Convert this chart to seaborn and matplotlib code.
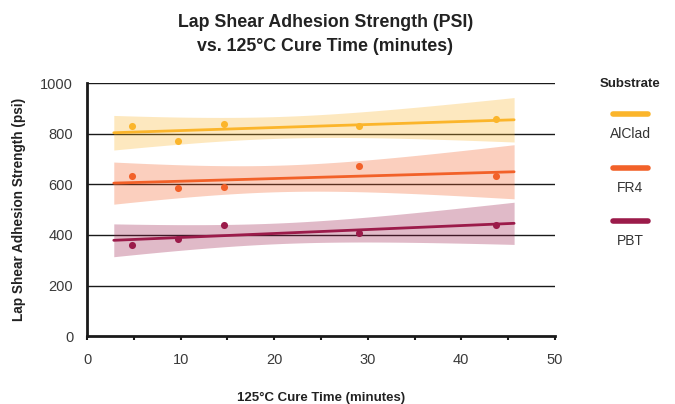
import matplotlib
matplotlib.use("Agg")
import matplotlib.pyplot as plt
from matplotlib.lines import Line2D
import numpy as np
import pandas as pd
import seaborn as sns

# Cure-time study: lap shear adhesion strength per substrate
cure_time = [4.8, 9.7, 14.6, 29.1, 43.7]
alclad = [829, 771, 840, 829, 857]
fr4 = [634, 587, 590, 674, 632]
pbt = [360, 383, 440, 409, 440]

substrates = ["AlClad", "FR4", "PBT"]
colors = {"AlClad": "#FBB52B", "FR4": "#F26129", "PBT": "#9B1B4A"}

df = pd.DataFrame({
    "time": cure_time * 3,
    "psi": alclad + fr4 + pbt,
    "substrate": ["AlClad"] * 5 + ["FR4"] * 5 + ["PBT"] * 5,
})

# two-sided 95% Student t quantile for 3 degrees of freedom (n = 5 points)
T_975_DF3 = 3.182


def confidence_band(x, y, xs):
    """Analytic 95% confidence band of an ordinary least-squares line."""
    x = np.asarray(x, float)
    y = np.asarray(y, float)
    n = len(x)
    slope, intercept = np.polyfit(x, y, 1)
    resid = y - (slope * x + intercept)
    s = np.sqrt(np.sum(resid ** 2) / (n - 2))
    sxx = np.sum((x - x.mean()) ** 2)
    fit = slope * xs + intercept
    half = T_975_DF3 * s * np.sqrt(1.0 / n + (xs - x.mean()) ** 2 / sxx)
    return fit - half, fit + half


sns.set_theme(style="white")
plt.rcParams["font.family"] = ["Liberation Sans", "DejaVu Sans"]

fig = plt.figure(figsize=(6.75, 4.04), dpi=100)
ax = fig.add_axes([0.129, 0.168, 0.693, 0.626])

for name in substrates:
    sub = df[df["substrate"] == name]
    sns.regplot(
        data=sub, x="time", y="psi", ax=ax, truncate=False, ci=None,
        color=colors[name],
        scatter_kws={"s": 26, "alpha": 1, "linewidths": 0, "zorder": 4},
        line_kws={"lw": 2.0, "zorder": 3},
    )
    xs = np.asarray(ax.lines[-1].get_xdata(), float)
    lo, hi = confidence_band(sub["time"], sub["psi"], xs)
    ax.fill_between(xs, lo, hi, color=colors[name], alpha=0.3,
                    linewidth=0, zorder=2)

ax.set_xlim(0, 50)
ax.set_ylim(0, 1000)
ax.set_xticks(range(0, 51, 10))
ax.set_xticks(range(5, 50, 10), minor=True)
ax.set_yticks(range(0, 1001, 200))

ax.grid(False)
for yv in range(200, 1001, 200):
    ax.axhline(yv, color="#1a1a1a", lw=1.0, zorder=1)

for side in ["top", "right"]:
    ax.spines[side].set_visible(False)
ax.spines["left"].set_color("#1a1a1a")
ax.spines["left"].set_linewidth(2.0)
ax.spines["bottom"].set_color("#1a1a1a")
ax.spines["bottom"].set_linewidth(2.0)
ax.spines["bottom"].set_zorder(5)

ax.tick_params(axis="both", which="both", direction="out", color="#1a1a1a",
               labelsize=10.5, labelcolor="#3a3a3a")
ax.tick_params(axis="y", length=5, width=1.2, pad=5)
ax.tick_params(axis="x", which="both", length=3, width=1.5, pad=9, bottom=True)

ax.set_xlabel("125°C Cure Time (minutes)", fontsize=9.5, fontweight="bold",
              color="#222222", labelpad=18)
ax.set_ylabel("Lap Shear Adhesion Strength (psi)", fontsize=9.8,
              fontweight="bold", color="#222222", labelpad=10)

fig.suptitle("Lap Shear Adhesion Strength (PSI)\nvs. 125°C Cure Time (minutes)",
             x=0.482, y=0.965, fontsize=12.8, fontweight="bold",
             color="#222222", linespacing=1.5)

# legend: title, then a line swatch with its label beneath
W, H = 675, 404
fig.text(630 / W, 1 - 84 / H, "Substrate", ha="center", va="center",
         fontsize=9.5, fontweight="bold", color="#222222")
for i, name in enumerate(substrates):
    y_line = 114 + i * 53.5
    fig.add_artist(Line2D([613 / W, 648 / W], [1 - y_line / H] * 2,
                          color=colors[name], lw=4, solid_capstyle="round",
                          transform=fig.transFigure))
    fig.text(630 / W, 1 - (y_line + 20) / H, name, ha="center",
             va="center", fontsize=10, color="#333333")

fig.savefig("out.png", dpi=100)
